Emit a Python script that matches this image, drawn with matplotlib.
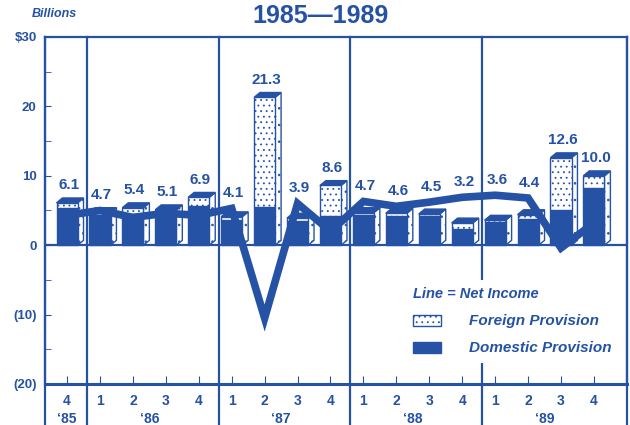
import matplotlib
matplotlib.use("Agg")
import matplotlib.pyplot as plt
from matplotlib.patches import Rectangle, Polygon

BLUE = "#2552a5"
BG = "#ffffff"

quarters = ["4", "1", "2", "3", "4", "1", "2", "3", "4",
            "1", "2", "3", "4", "1", "2", "3", "4"]
years = ["‘85", "‘86", "‘87", "‘88", "‘89"]
year_pos = [0, 2.5, 6.5, 10.5, 14.5]
year_breaks = [0.6, 4.6, 8.6, 12.6]

totals = [6.1, 4.7, 5.4, 5.1, 6.9, 4.1, 21.3, 3.9, 8.6,
          4.7, 4.6, 4.5, 3.2, 3.6, 4.4, 12.6, 10.0]
domestic = [5.3, 4.3, 4.5, 4.6, 5.6, 3.7, 5.5, 3.5, 4.2,
            4.3, 4.2, 4.2, 2.3, 3.3, 3.8, 5.0, 8.3]
foreign = [t - d for t, d in zip(totals, domestic)]
net_income = [4.3, 5.0, 4.0, 4.6, 4.3, 5.3, -10.5, 6.0, 2.0,
              6.3, 5.6, 6.2, 6.9, 7.2, 6.8, -0.4, 3.2]

yticks = [30, 20, 10, 0, -10, -20]
ylabels = ["$30", "20", "10", "0", "(10)", "(20)"]

plt.rcParams.update({
    "font.family": ["Liberation Sans", "DejaVu Sans"],
    "font.weight": "bold",
    "hatch.color": BLUE,
    "hatch.linewidth": 0.6,
})

fig = plt.figure(figsize=(6.3, 4.25), dpi=100, facecolor=BG)
ax = fig.add_axes([0.0714, 0.0965, 0.9236, 0.8165])
ax.set_xlim(-0.67, 17.0)
ax.set_ylim(-20, 30)

w = 0.64   # bar front width (slots)
dx = 0.18  # 3d depth in x
dy = 0.7   # 3d depth in y

for i, (d, f) in enumerate(zip(domestic, foreign)):
    x0, x1 = i - w / 2, i + w / 2
    top = d + f
    # side face
    ax.add_patch(Polygon([(x1, 0), (x1 + dx, dy), (x1 + dx, top + dy), (x1, top)],
                         closed=True, facecolor="white", edgecolor=BLUE, lw=1.0,
                         hatch="..", zorder=2))
    # top face
    ax.add_patch(Polygon([(x0, top), (x0 + dx, top + dy), (x1 + dx, top + dy), (x1, top)],
                         closed=True, facecolor=BLUE, edgecolor=BLUE, lw=1.0, zorder=2))
    # domestic front
    ax.add_patch(Rectangle((x0, 0), w, d, facecolor=BLUE, edgecolor=BLUE, lw=1.0, zorder=3))
    # foreign front
    ax.add_patch(Rectangle((x0, d), w, f, facecolor="white", edgecolor=BLUE, lw=1.0,
                           hatch="...", zorder=3))
    label_y = max(top + dy + 0.8, net_income[i] + 1.2)
    ax.text(i + 0.05, label_y, f"{top:.1f}", ha="center", va="bottom",
            fontsize=11, fontweight="bold", color=BLUE, zorder=5)

ax.plot(range(len(net_income)), net_income, color=BLUE, lw=5.5,
        solid_joinstyle="miter", zorder=4)

ax.axhline(0, color=BLUE, lw=1.6, zorder=3.5)

# year dividers and frame, extended into label area
for xb in year_breaks + [-0.67, 17.0]:
    ax.plot([xb, xb], [-26.5, 30], color=BLUE, lw=1.6, clip_on=False, zorder=1)

for s in ax.spines.values():
    s.set_color(BLUE)
    s.set_linewidth(1.6)
ax.spines["bottom"].set_linewidth(2.2)

ax.set_yticks(yticks)
ax.set_yticklabels(ylabels, fontsize=9.5, fontweight="bold", color=BLUE)
ax.set_yticks(range(-15, 30, 10), minor=True)
ax.tick_params(axis="y", which="both", direction="in", length=4, color=BLUE, pad=6)
ax.set_xticks(range(len(quarters)))
ax.set_xticklabels([])
ax.tick_params(axis="x", direction="in", length=6, color=BLUE)

for i, q in enumerate(quarters):
    ax.text(i, -22.4, q, ha="center", va="center", fontsize=10,
            fontweight="bold", color=BLUE, clip_on=False)
for xp, yr in zip(year_pos, years):
    ax.text(xp, -25.0, yr, ha="center", va="center", fontsize=10,
            fontweight="bold", color=BLUE, clip_on=False)

fig.text(0.508, 0.963, "1985—1989", ha="center", va="center", fontsize=18,
         fontweight="bold", color=BLUE)
fig.text(0.05, 0.968, "Billions", ha="left", va="center", fontsize=9,
         style="italic", color=BLUE)

# legend (white panel hides the year divider behind it)
ax.add_patch(Rectangle((10.3, -17.0), 6.5, 12.0, facecolor="white",
                       edgecolor="none", zorder=1.5))
ax.text(10.5, -7.0, "Line = Net Income", fontsize=10.5, style="italic",
        fontweight="bold", color=BLUE, va="center", zorder=2)
ax.add_patch(Rectangle((10.5, -11.7), 0.85, 1.7, facecolor="white", edgecolor=BLUE,
                       lw=1.0, hatch="...", zorder=2))
ax.text(12.2, -10.9, "Foreign Provision", fontsize=11, style="italic",
        fontweight="bold", color=BLUE, va="center", zorder=2)
ax.add_patch(Rectangle((10.5, -15.6), 0.85, 1.7, facecolor=BLUE, edgecolor=BLUE,
                       lw=1.0, zorder=2))
ax.text(12.2, -14.8, "Domestic Provision", fontsize=11, style="italic",
        fontweight="bold", color=BLUE, va="center", zorder=2)

fig.savefig("out.png", dpi=100, facecolor=BG)
